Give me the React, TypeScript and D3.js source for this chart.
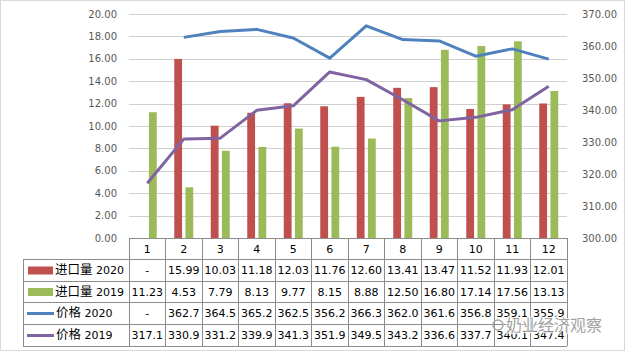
import React from "react";
import * as d3 from "d3";

const months = ["1", "2", "3", "4", "5", "6", "7", "8", "9", "10", "11", "12"];
const import2020 = [null, 15.99, 10.03, 11.18, 12.03, 11.76, 12.6, 13.41, 13.47, 11.52, 11.93, 12.01];
const import2019 = [11.23, 4.53, 7.79, 8.13, 9.77, 8.15, 8.88, 12.5, 16.8, 17.14, 17.56, 13.13];
const price2020 = [null, 362.7, 364.5, 365.2, 362.5, 356.2, 366.3, 362.0, 361.6, 356.8, 359.1, 355.9];
const price2019 = [317.1, 330.9, 331.2, 339.9, 341.3, 351.9, 349.5, 343.2, 336.6, 337.7, 340.1, 347.4];
const leftTicks = [0, 2, 4, 6, 8, 10, 12, 14, 16, 18, 20];
const rightTicks = [300, 310, 320, 330, 340, 350, 360, 370];

const RED = "#C0504D";
const GREEN = "#9BBB59";
const BLUE = "#4F81BD";
const PURPLE = "#8064A2";
const GRID = "#8c8c8c";
const NUM_FONT = "'DejaVu Sans', Verdana, sans-serif";
const CJK_FONT = "'Noto Sans CJK SC', sans-serif";

const App = () => {
  const left = 129, right = 567, top = 14, bottom = 238;
  const tableLeft = 23;
  const rowY = [238, 259, 281, 302, 324, 346];

  const x = d3.scaleBand().domain(months).range([left, right]);
  const bw = x.bandwidth();
  const xSub = d3.scaleBand().domain(["2020", "2019"]).range([bw / 2 - 9.5, bw / 2 + 9.5]).paddingInner(0.3);
  const yL = d3.scaleLinear().domain([0, 20]).range([bottom, top]);
  const yR = d3.scaleLinear().domain([300, 370]).range([bottom, top]);
  const cx = (m) => x(m) + bw / 2;

  const line = d3.line()
    .defined((d) => d[1] != null)
    .x((d) => cx(d[0]))
    .y((d) => yR(d[1]));

  const rows = [
    { name: "进口量 2020", values: import2020, color: RED, kind: "bar", fmt: 2 },
    { name: "进口量 2019", values: import2019, color: GREEN, kind: "bar", fmt: 2 },
    { name: "价格 2020", values: price2020, color: BLUE, kind: "line", fmt: 1 },
    { name: "价格 2019", values: price2019, color: PURPLE, kind: "line", fmt: 1 },
  ];

  return (
    <svg width={626} height={353} style={{ position: "absolute", left: 0, top: 0, background: "#fff" }}>
      <rect x={0.5} y={0.5} width={624} height={350} fill="#fff" stroke="#d9d9d9" />

      {/* grid */}
      {leftTicks.map((t) => (
        <line key={t} x1={left} x2={right} y1={Math.round(yL(t)) + 0.5} y2={Math.round(yL(t)) + 0.5}
          stroke="#d0d0d0" strokeWidth={1} />
      ))}

      {/* left axis labels */}
      {leftTicks.map((t) => (
        <text key={"l" + t} x={117} y={yL(t)} dy="0.35em" textAnchor="end" fontSize={10}
          fontFamily={NUM_FONT} fill="#595959">{t.toFixed(2)}</text>
      ))}
      {/* right axis labels */}
      {rightTicks.map((t) => (
        <text key={"r" + t} x={582} y={yR(t)} dy="0.35em" textAnchor="start" fontSize={10}
          fontFamily={NUM_FONT} fill="#595959">{t.toFixed(2)}</text>
      ))}

      {/* bars */}
      {months.map((m, i) => (
        <g key={"b" + m}>
          {import2020[i] != null && (
            <rect x={x(m) + xSub("2020")} width={xSub.bandwidth()} y={yL(import2020[i])}
              height={bottom - yL(import2020[i])} fill={RED} />
          )}
          <rect x={x(m) + xSub("2019")} width={xSub.bandwidth()} y={yL(import2019[i])}
            height={bottom - yL(import2019[i])} fill={GREEN} />
        </g>
      ))}

      {/* lines */}
      <path d={line(months.map((m, i) => [m, price2020[i]]))} fill="none" stroke={BLUE} strokeWidth={3} strokeLinejoin="round" />
      <path d={line(months.map((m, i) => [m, price2019[i]]))} fill="none" stroke={PURPLE} strokeWidth={3} strokeLinejoin="round" />

      {/* data table */}
      <g stroke={GRID} strokeWidth={1} shapeRendering="crispEdges">
        <line x1={left} x2={right} y1={rowY[0]} y2={rowY[0]} />
        {rowY.slice(1).map((y) => (
          <line key={"h" + y} x1={tableLeft} x2={right} y1={y} y2={y} />
        ))}
        <line x1={tableLeft} x2={tableLeft} y1={rowY[1]} y2={rowY[5]} />
        {months.map((m) => (
          <line key={"v" + m} x1={x(m)} x2={x(m)} y1={rowY[0]} y2={rowY[5]} />
        ))}
        <line x1={right} x2={right} y1={rowY[0]} y2={rowY[5]} />
      </g>

      {months.map((m) => (
        <text key={"c" + m} x={cx(m)} y={(rowY[0] + rowY[1]) / 2 + 1} dy="0.35em" textAnchor="middle"
          fontSize={11} fontFamily={NUM_FONT} fill="#000">{m}</text>
      ))}

      {rows.map((r, ri) => {
        const yc = (rowY[ri + 1] + rowY[ri + 2]) / 2 + 0.5;
        return (
          <g key={r.name}>
            {r.kind === "bar"
              ? <rect x={28} y={yc - 4} width={25} height={8} fill={r.color} />
              : <line x1={27} x2={54} y1={yc} y2={yc} stroke={r.color} strokeWidth={3} />}
            <text x={r.kind === "bar" ? 55 : 56} y={yc} dy="0.35em" fontSize={11} fill="#000">
              <tspan fontFamily={CJK_FONT} fontSize={12.5}>{r.name.split(" ")[0]}</tspan>
              <tspan fontFamily={NUM_FONT}> {r.name.split(" ")[1]}</tspan>
            </text>
            {months.map((m, i) => (
              <text key={m} x={cx(m)} y={yc} dy="0.35em" textAnchor="middle" fontSize={11}
                fontFamily={NUM_FONT} fill="#000">
                {r.values[i] == null ? "-" : r.values[i].toFixed(r.fmt)}
              </text>
            ))}
          </g>
        );
      })}

      {/* watermark */}
      <g>
        <circle cx={498} cy={325} r={5} fill="none" stroke="#aaa" strokeWidth={1.5} />
        <text x={506} y={325} dy="0.35em" fontSize={16} fontFamily={CJK_FONT} fill="#999"
          stroke="#fff" strokeWidth={2} paintOrder="stroke" opacity={0.9}>奶业经济观察</text>
      </g>
    </svg>
  );
};

export default App;
